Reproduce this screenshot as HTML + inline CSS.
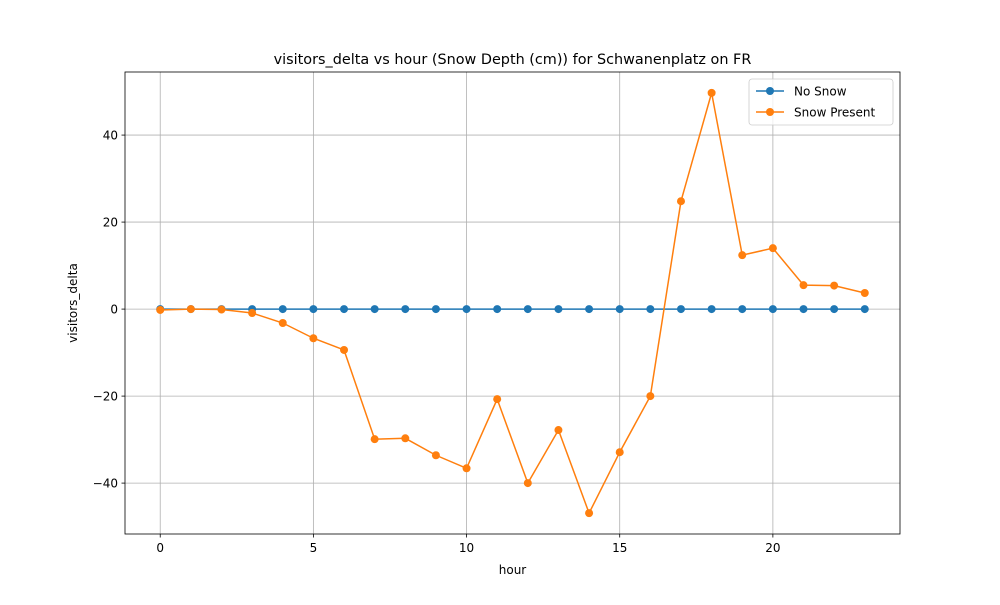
<!DOCTYPE html>
<html><head><meta charset="utf-8"><style>
body{margin:0;background:#fff;font-family:"Liberation Sans",sans-serif;}
svg text{font-family:"DejaVu Sans","Liberation Sans",sans-serif;}
</style></head><body>
<svg id="chart" width="1000" height="600" xmlns="http://www.w3.org/2000/svg"></svg>
<script>
const hours=[0,1,2,3,4,5,6,7,8,9,10,11,12,13,14,15,16,17,18,19,20,21,22,23];
const noSnow=[0,0,0,0,0,0,0,0,0,0,0,0,0,0,0,0,0,0,0,0,0,0,0,0];
const snowPresent=[-0.2,0,-0.1,-0.9,-3.2,-6.7,-9.4,-29.9,-29.7,-33.6,-36.6,-20.7,-40.0,-27.8,-46.9,-32.9,-20.0,24.8,49.7,12.4,14.0,5.5,5.4,3.7];
const xTicks=[0,5,10,15,20];
const yTicks=[-40,-20,0,20,40];
const yTickLabels=["\u221240","\u221220","0","20","40"];

const L=125,R=900,T=72,B=534;
const xMin=-1.15,xMax=24.15,yMin=-51.7,yMax=54.5;
const sx=v=>L+(v-xMin)/(xMax-xMin)*(R-L);
const sy=v=>B-(v-yMin)/(yMax-yMin)*(B-T);
const svg=document.getElementById('chart');
const NS='http://www.w3.org/2000/svg';
function mk(tag,attrs,parent){const e=document.createElementNS(NS,tag);for(const k in attrs)e.setAttribute(k,attrs[k]);(parent||svg).appendChild(e);return e;}

xTicks.forEach(t=>{
  const g=mk('line',{x1:sx(t),x2:sx(t),y1:T,y2:B,stroke:'#b0b0b0','stroke-width':0.8});
  
  
  mk('line',{x1:sx(t),x2:sx(t),y1:B,y2:B+3.5,stroke:'#000','stroke-width':0.8});
  const tx=mk('text',{x:sx(t),y:B+18,'text-anchor':'middle','font-size':12});
  tx.textContent=t;
  
  
});
yTicks.forEach((t,i)=>{
  const g=mk('line',{x1:L,x2:R,y1:sy(t),y2:sy(t),stroke:'#b0b0b0','stroke-width':0.8});
  
  
  mk('line',{x1:L-3.5,x2:L,y1:sy(t),y2:sy(t),stroke:'#000','stroke-width':0.8});
  const tx=mk('text',{x:L-7,y:sy(t)+4.5,'text-anchor':'end','font-size':12});
  tx.textContent=yTickLabels[i];
  
  
});

function series(vals,color,name){
  const p=mk('polyline',{points:hours.map((h,i)=>sx(h)+','+sy(vals[i])).join(' '),fill:'none',stroke:color,'stroke-width':1.5});
  
  
  hours.forEach((h,i)=>{
    const c=mk('circle',{cx:sx(h),cy:sy(vals[i]),r:4,fill:color});
    
    
  });
}
series(noSnow,'#1f77b4','no-snow');
series(snowPresent,'#ff7f0e','snow-present');

const frame=mk('rect',{x:L,y:T,width:R-L,height:B-T,fill:'none',stroke:'#000','stroke-width':0.8});



const title=mk('text',{x:(L+R)/2,y:T-8,'text-anchor':'middle','font-size':14.4});
title.textContent='visitors_delta vs hour (Snow Depth (cm)) for Schwanenplatz on FR';


const xl=mk('text',{x:(L+R)/2,y:574,'text-anchor':'middle','font-size':12});
xl.textContent='hour';


const yl=mk('text',{x:0,y:0,'text-anchor':'middle','font-size':12,transform:'translate(77,'+((T+B)/2)+') rotate(-90)'});
yl.textContent='visitors_delta';



const lg=mk('g',{});


mk('rect',{x:749,y:79,width:144,height:46,rx:3,fill:'#fff',stroke:'#ccc','stroke-width':0.8,'fill-opacity':0.8},lg);
[['No Snow','#1f77b4'],['Snow Present','#ff7f0e']].forEach((e,i)=>{
  const y=91+i*21;
  const g=mk('g',{},lg);
  
  
  mk('line',{x1:756,x2:784,y1:y,y2:y,stroke:e[1],'stroke-width':1.5},g);
  mk('circle',{cx:770,cy:y,r:4,fill:e[1]},g);
  const t=mk('text',{x:794,y:y+4.5,'font-size':12},g);
  t.textContent=e[0];
});
</script>
</body></html>
